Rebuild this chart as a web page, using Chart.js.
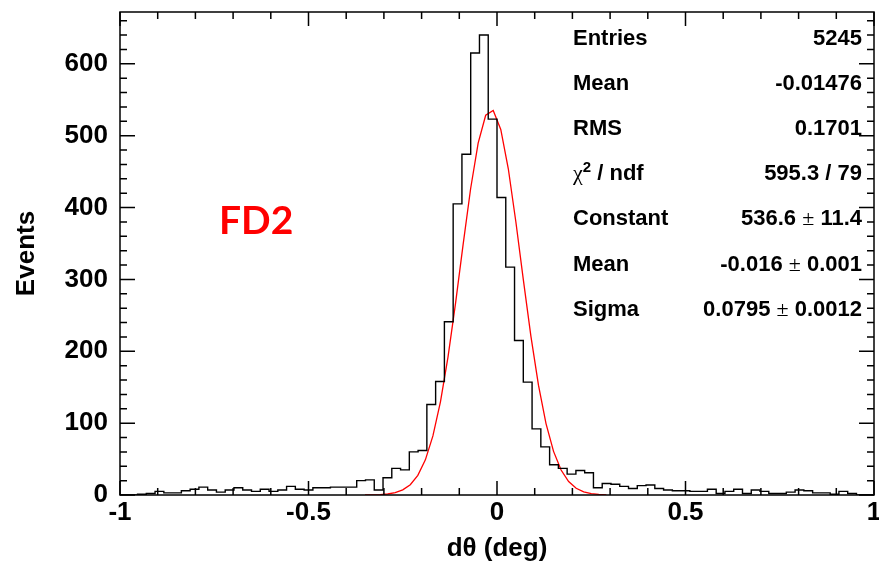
<!DOCTYPE html>
<html>
<head>
<meta charset="utf-8">
<script src="https://cdn.jsdelivr.net/npm/chart.js@4.4.1/dist/chart.umd.min.js"></script>
<style>
  html, body { margin: 0; padding: 0; background: #fff; }
  #wrap { position: relative; width: 879px; height: 567px; }
  #plot { position: absolute; left: 0; top: 0; }
  .stat { position: absolute; left: 573px; width: 289px; height: 26px; line-height: 26px;
          display: flex; justify-content: space-between; white-space: nowrap;
          font: bold 22px "Liberation Sans", Arial, sans-serif; color: #000; }
  .pm, .chi { font-family: "Liberation Serif", "Times New Roman", serif; font-weight: normal; }
  .stat sup { font-size: 15px; line-height: 0; }
  #fd2 { position: absolute; left: 219px; top: 196px; line-height: 39px;
         font: bold 39px Lato, sans-serif; color: #f00; }
</style>
</head>
<body>
<div id="wrap">
  <canvas id="plot" width="879" height="567"></canvas>
  <div id="fd2">FD2</div>
</div>
<script>
// histogram: 86 bins between -1 and 1
const xMin = -1
const xMax = 1
const binCounts = [
  1, 0, 0, 1, 2, 5, 3, 3, 6, 8,
  11, 7, 4, 7, 10, 7, 5, 8, 5, 7,
  12, 8, 7, 10, 10, 11, 11, 11, 20, 21,
  7, 24, 37, 35, 60, 62, 126, 158, 241, 405,
  474, 615, 640, 523, 414, 317, 215, 157, 92, 67,
  42, 37, 29, 34, 31, 10, 16, 15, 12, 9,
  13, 14, 9, 7, 6, 6, 5, 5, 8, 2,
  5, 8, 2, 7, 5, 2, 2, 4, 7, 6,
  3, 3, 1, 5, 2, 0
]

// gaussian fit curve
const fitX = [-0.35, -0.33, -0.31, -0.29, -0.27, -0.25, -0.23, -0.21, -0.19, -0.17,
  -0.15, -0.13, -0.11, -0.09, -0.07, -0.05, -0.03, -0.01, 0.01, 0.03,
  0.05, 0.07, 0.09, 0.11, 0.13, 0.15, 0.17, 0.19, 0.21, 0.23,
  0.25, 0.27, 0.29]
const fitY = [0.1, 0.2, 0.6, 1.4, 3.3, 7.1, 14.3, 27.3, 48.9, 82.2,
  129.6, 191.9, 266.7, 347.9, 426.1, 489.7, 528.3, 535.1, 508.6, 453.9,
  380.2, 298.9, 220.6, 152.8, 99.4, 60.7, 34.8, 18.7, 9.4, 4.5,
  2.0, 0.8, 0.3]

const xTickValues = [-1, -0.5, 0, 0.5, 1]
const yTickValues = [0, 100, 200, 300, 400, 500, 600]
const yMax = 672

const statLabels = ["Entries", "Mean", "RMS", "<span class='chi'>&chi;</span><sup>2</sup> / ndf", "Constant", "Mean", "Sigma"]
const statValues = ["5245", "-0.01476", "0.1701", "595.3 / 79", "536.6 <span class='pm'>&plusmn;</span> 11.4",
  "-0.016 <span class='pm'>&plusmn;</span> 0.001", "0.0795 <span class='pm'>&plusmn;</span> 0.0012"]

const wrap = document.getElementById("wrap")
statLabels.forEach((lab, i) => {
  const row = document.createElement("div")
  row.className = "stat"
  row.style.top = (24.5 + i * 45.2) + "px"
  row.innerHTML = "<span>" + lab + "</span><span>" + statValues[i] + "</span>"
  wrap.appendChild(row)
})

const binWidth = (xMax - xMin) / binCounts.length
const histPoints = binCounts.map((c, i) => ({ x: xMin + i * binWidth, y: c }))
histPoints.push({ x: xMax, y: binCounts[binCounts.length - 1] })
const fitPoints = fitX.map((x, i) => ({ x: x, y: fitY[i] }))

const fuente = { family: "'Liberation Sans', Arial, sans-serif", size: 26, weight: "bold" }

// labels may hang over the plot edges, no extra room for them
const sinRelleno = (s) => { s.paddingTop = 0; s.paddingBottom = 0; s.paddingLeft = 0; s.paddingRight = 0 }

// ROOT style frame with inward ticks on every side
const marco = {
  id: "marco",
  afterDatasetsDraw(chart) {
    const { ctx, chartArea: a, scales: { x, y } } = chart
    ctx.save()
    ctx.strokeStyle = "#000"
    ctx.lineWidth = 1.5
    ctx.strokeRect(a.left, a.top, a.right - a.left, a.bottom - a.top)
    ctx.beginPath()
    for (let i = 0; i <= 20; i++) {
      const px = x.getPixelForValue(xMin + i * 0.1)
      const len = i % 5 === 0 ? 14 : 7
      ctx.moveTo(px, a.bottom); ctx.lineTo(px, a.bottom - len)
      ctx.moveTo(px, a.top); ctx.lineTo(px, a.top + len)
    }
    for (let v = 0; v <= 660; v += 20) {
      const py = y.getPixelForValue(v)
      const len = v % 100 === 0 ? 15 : 7
      ctx.moveTo(a.left, py); ctx.lineTo(a.left + len, py)
      ctx.moveTo(a.right, py); ctx.lineTo(a.right - len, py)
    }
    ctx.stroke()
    ctx.restore()
  }
}

new Chart(document.getElementById("plot"), {
  type: "line",
  data: {
    datasets: [
      { data: histPoints, stepped: "after", borderColor: "#000", borderWidth: 1.4, pointRadius: 0, fill: false },
      { data: fitPoints, borderColor: "#f00", borderWidth: 1.3, pointRadius: 0, fill: false, tension: 0 }
    ]
  },
  options: {
    responsive: false,
    animation: false,
    layout: { padding: { top: 12, right: 5, left: 0, bottom: 0 } },
    plugins: { legend: { display: false }, tooltip: { enabled: false } },
    scales: {
      x: {
        type: "linear", min: xMin, max: xMax,
        grid: { display: false, drawTicks: false },
        border: { display: false },
        afterBuildTicks: (s) => { s.ticks = xTickValues.map(v => ({ value: v })) },
        ticks: { callback: (v) => String(v), font: fuente, color: "#000", padding: 2, maxRotation: 0, autoSkip: false },
        title: { display: true, text: "dθ (deg)", font: fuente, color: "#000", padding: { top: 0, bottom: 3 } },
        afterFit: (s) => { s.height = 72; sinRelleno(s) }
      },
      y: {
        min: 0, max: yMax,
        grid: { display: false, drawTicks: false },
        border: { display: false },
        afterBuildTicks: (s) => { s.ticks = yTickValues.map(v => ({ value: v })) },
        ticks: { font: fuente, color: "#000", padding: 12 },
        title: { display: true, text: "Events", font: fuente, color: "#000", padding: { top: 11, bottom: 0 } },
        afterFit: (s) => { s.width = 120; sinRelleno(s) }
      }
    }
  },
  plugins: [marco]
})
</script>
</body>
</html>
